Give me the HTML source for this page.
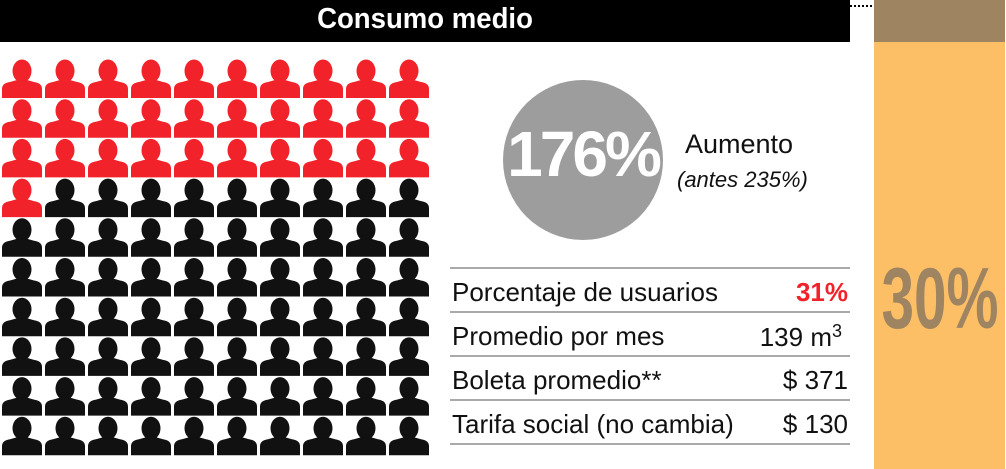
<!DOCTYPE html>
<html><head><meta charset="utf-8"><style>
body{margin:0;width:1006px;height:469px;background:#fff;overflow:hidden;position:relative;font-family:"Liberation Sans",sans-serif}
.a{position:absolute;white-space:nowrap}
.row{position:absolute;left:450px;width:400px;height:44px;border-top:2px solid #aaa;font-size:26px;color:#111}
.row span{position:absolute;top:8px}
.row .r{right:2px}
</style></head><body>
<div class="a" style="left:0;top:0;width:850px;height:42px;background:#000"></div>
<div class="a" style="left:0;top:3px;width:850px;text-align:center;color:#fff;font-weight:bold;font-size:29px;transform:scaleX(0.95)">Consumo medio</div>
<div class="a" style="left:850px;top:5px;width:22px;border-top:2px dotted #000"></div>
<div class="a" style="left:874px;top:0;width:131px;height:42px;background:#9f8462"></div>
<div class="a" style="left:874px;top:42px;width:131px;height:427px;background:#fdbf66"></div>
<div class="a" style="left:820px;top:250px;width:240px;text-align:center;font-size:86px;font-weight:bold;color:#9f8462;transform:scaleX(0.68)">30%</div>

<svg class="a" style="left:0;top:0" width="440" height="469">
<defs>
<g id="p"><ellipse cx="20" cy="11" rx="9.5" ry="11.5"/><rect x="15" y="17" width="10" height="6"/><path d="M0 38 L0 29 Q0 23 8 22 L15 20 L25 20 L32 22 Q40 23 40 29 L40 38 Z"/></g>
</defs>
<g id="grid"></g>
</svg>
<script>
var g=document.getElementById('grid'),s='';
for(var r=0;r<10;r++)for(var c=0;c<10;c++){var i=r*10+c;s+='<use href="#p" x="'+(2+c*43)+'" y="'+(60+r*39.7)+'" fill="'+(i<31?'#f2222a':'#111')+'"/>';}
g.innerHTML=s;
</script>

<div class="a" style="left:503px;top:80px;width:160px;height:160px;border-radius:50%;background:#9d9d9d"></div>
<div class="a" style="left:503px;top:117px;width:160px;text-align:center;color:#fff;font-weight:bold;font-size:64px;letter-spacing:-3px">176%</div>
<div class="a" style="left:685px;top:129px;font-size:27px;color:#111">Aumento</div>
<div class="a" style="left:677px;top:167px;font-size:22px;font-style:italic;color:#111">(antes 235%)</div>

<div class="row" style="top:267px"><span style="left:2px">Porcentaje de usuarios</span><span class="r" style="color:#f2222a;font-weight:bold">31%</span></div>
<div class="row" style="top:311px"><span style="left:2px">Promedio por mes</span><span class="r" style="right:8px">139 m<sup style="font-size:18px;vertical-align:9px">3</sup></span></div>
<div class="row" style="top:355px"><span style="left:2px">Boleta promedio**</span><span class="r">$ 371</span></div>
<div class="row" style="top:399px"><span style="left:2px">Tarifa social (no cambia)</span><span class="r">$ 130</span></div>
<div class="a" style="left:450px;top:443px;width:400px;border-top:2px solid #aaa"></div>
</body></html>
